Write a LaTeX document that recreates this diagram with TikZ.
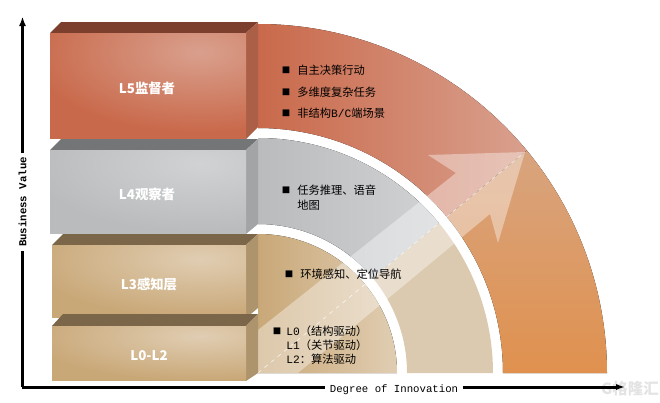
\documentclass[tikz,border=0pt]{standalone}
\usepackage{fontspec}
\setmainfont{Noto Sans CJK SC}
\newfontfamily\latinmono{Liberation Mono}
\usetikzlibrary{arrows.meta}
\definecolor{cred}{HTML}{C9694B}
\definecolor{credlight}{HTML}{D9A08D}
\definecolor{credtop}{HTML}{7D3F2D}
\definecolor{credside}{HTML}{AB5F46}
\definecolor{cgray}{HTML}{B9BBBD}
\definecolor{cgraylight}{HTML}{D0D2D4}
\definecolor{cgraytop}{HTML}{747576}
\definecolor{cgrayside}{HTML}{A2A4A6}
\definecolor{ctan}{HTML}{C9A878}
\definecolor{ctanlight}{HTML}{E0CDB2}
\definecolor{ctantop}{HTML}{7C664A}
\definecolor{ctanside}{HTML}{AE946C}
\definecolor{cring}{HTML}{DCCAB0}
\definecolor{corange}{HTML}{E0914F}
\definecolor{corangelight}{HTML}{D8A47E}
\tikzset{
  boxlabel/.style={text=white, font=\bfseries\fontsize{9.5}{11}\selectfont},
  itemlabel/.style={anchor=west, inner sep=0pt, font=\fontsize{8}{9}\selectfont},
  bulletmark/.style={inner sep=0pt, font=\fontsize{6}{7}\selectfont},
  axislabel/.style={font=\latinmono\fontsize{7.6}{9}\selectfont, inner sep=3pt},
  axisline/.style={line width=0.75mm},
}

\begin{document}
\begin{tikzpicture}[x=0.25mm, y=0.25mm]
  \useasboundingbox (0, 0) rectangle (660, 402);
  \coordinate (center) at (258, 29);

  % outer band
  \fill [left color=cred, right color=credlight] (center) ++(90:349) arc (90:39.6:349)
    -- ++(219.6:104) arc (39.6:90:245) -- cycle;
  \fill [top color=corangelight, bottom color=corange] (center) ++(39.6:349) arc (39.6:0:349)
    -- ++(-104, 0) arc (0:39.6:245) -- cycle;

  % middle band
  \fill [left color=cgray, right color=cgraylight] (center) ++(90:235) arc (90:39.6:235)
    -- ++(219.6:86) arc (39.6:90:149) -- cycle;
  \fill [cring] (center) ++(39.6:235) arc (39.6:0:235)
    -- ++(-86, 0) arc (0:39.6:149) -- cycle;

  % inner band
  \fill [left color=ctan, right color=ctanlight] (center) -- ++(139, 0) arc (0:90:139) -- cycle;

  % big arrow over the bands
  \fill [white, opacity=0.38] (258, 72) -- (456, 229) -- (428, 247) -- (525, 250)
    -- (498, 159) -- (490, 188) -- (298, 29) -- (258, 29) -- cycle;
  \draw [white, thin, dashed, opacity=0.8] (center) -- (525, 250);

  % layers
  \fill [credtop] (50, 369) -- (61, 380) -- (258, 380) -- (246, 369) -- cycle;
  \fill [credside] (246, 369) -- (258, 380) -- (258, 275) -- (246, 263) -- cycle;
  \begin{scope}
    \clip (50, 263) rectangle (246, 369);
    \fill [cred] (50, 263) rectangle (246, 369);
    \shade [inner color=credlight, outer color=cred] (200, 350) ellipse (170 and 80);
  \end{scope}
  \node (lfive) [boxlabel] at (147, 314) {L5监督者};

  \fill [cgraytop] (50, 252) -- (61, 263) -- (258, 263) -- (246, 252) -- cycle;
  \fill [cgrayside] (246, 252) -- (258, 263) -- (258, 178) -- (246, 168) -- cycle;
  \begin{scope}
    \clip (50, 168) rectangle (246, 252);
    \fill [cgray] (50, 168) rectangle (246, 252);
    \shade [inner color=cgraylight, outer color=cgray] (200, 238) ellipse (170 and 68);
  \end{scope}
  \node (lfour) [boxlabel] at (147, 208) {L4观察者};

  \fill [ctantop] (52, 157) -- (63, 168) -- (258, 168) -- (246, 157) -- cycle;
  \fill [ctanside] (246, 157) -- (258, 168) -- (258, 94) -- (246, 84) -- cycle;
  \begin{scope}
    \clip (52, 84) rectangle (246, 157);
    \fill [ctan] (52, 84) rectangle (246, 157);
    \shade [inner color=ctanlight, outer color=ctan] (200, 143) ellipse (170 and 58);
  \end{scope}
  \node (lthree) [boxlabel] at (149, 118) {L3感知层};

  \fill [ctantop] (52, 76) -- (63, 88) -- (258, 88) -- (246, 76) -- cycle;
  \fill [ctanside] (246, 76) -- (258, 88) -- (258, 29) -- (246, 21) -- cycle;
  \begin{scope}
    \clip (52, 21) rectangle (246, 76);
    \fill [ctan] (52, 21) rectangle (246, 76);
    \shade [inner color=ctanlight, outer color=ctan] (200, 66) ellipse (170 and 44);
  \end{scope}
  \node (lzero) [boxlabel] at (149, 46) {L0-L2};

  % items
  \node (bulleta) [bulletmark] at (286, 332) {■};
  \node (itema) [itemlabel] at (297, 332) {自主决策行动};
  \node (bulletb) [bulletmark] at (286, 310) {■};
  \node (itemb) [itemlabel] at (297, 310) {多维度复杂任务};
  \node (bulletc) [bulletmark] at (286, 289) {■};
  \node (itemc) [itemlabel] at (297, 289) {非结构{\latinmono B/C}端场景};
  \node (bulletd) [bulletmark] at (286, 212) {■};
  \node (itemd) [itemlabel] at (297, 212) {任务推理、语音};
  \node (iteme) [itemlabel] at (297, 197) {地图};
  \node (bulletf) [bulletmark] at (289, 128) {■};
  \node (itemf) [itemlabel] at (300, 128) {环境感知、定位导航};
  \node (bulletg) [bulletmark] at (277, 71) {■};
  \node (itemg) [itemlabel] at (286, 71) {{\latinmono L0}（结构驱动）};
  \node (itemh) [itemlabel] at (286, 57) {{\latinmono L1}（关节驱动）};
  \node (itemi) [itemlabel] at (286, 43) {{\latinmono L2}：算法驱动};

  % watermark
  \node (mark) [text=gray!22, font=\bfseries\fontsize{11}{12}\selectfont] at (630, 13) {G格隆汇};

  % axes
  \coordinate (origin) at (22.5, 15);
  \coordinate (ytip) at (22.5, 392);
  \coordinate (xtip) at (625, 15);
  \node (ylabel) [axislabel, font=\latinmono\bfseries\fontsize{7.6}{9}\selectfont, rotate=90] at (22.5, 200) {Business Value};
  \node (xlabel) [axislabel] at (394, 12) {Degree of Innovation};
  \draw [axisline] (origin) -- (ylabel.west);
  \draw [axisline, -{Latex[length=4mm, width=1.5mm]}] (ylabel.east) -- (ytip);
  \draw [axisline] (21.5, 15) -- (origin -| xlabel.west);
  \draw [axisline, -{Latex[length=2.2mm, width=1.5mm]}] (origin -| xlabel.east) -- (xtip);
\end{tikzpicture}
\end{document}
